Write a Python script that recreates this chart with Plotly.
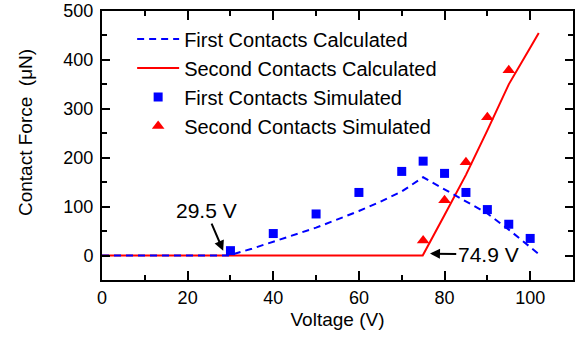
import plotly.graph_objects as go

# Calculated contact force curves (voltage in V, force in uN)
first_calc_v = [0, 29.5, 35, 40, 45, 50, 55, 60, 65, 70, 75, 80, 85, 90, 95, 100, 102]
first_calc_f = [0, 0, 14, 28, 42, 57, 74, 91, 110, 131, 160, 135, 110, 86, 53, 18, 3]

second_calc_v = [0, 74.9, 80, 85, 90, 95, 100, 102]
second_calc_f = [0, 0, 83, 165, 256, 350, 425, 455]

# Simulated contact forces
first_sim_v = [30, 40, 50, 60, 70, 75, 80, 85, 90, 95, 100]
first_sim_f = [10, 45, 85, 129, 172, 193, 168, 129, 94, 64, 35]

second_sim_v = [75, 80, 85, 90, 95]
second_sim_f = [31, 113, 191, 283, 379]

# Pull-in voltages marked with arrows
first_pullin = 29.5
second_pullin = 74.9

x_range = [0, 110]
y_range = [-50, 500]
x_ticks = [0, 20, 40, 60, 80, 100]
y_ticks = [0, 100, 200, 300, 400, 500]

BLUE = "#0000FF"
RED = "#FF0000"
FONT = "Arial, Liberation Sans, sans-serif"

fig = go.Figure()

fig.add_trace(go.Scatter(
    x=second_calc_v, y=second_calc_f, mode="lines",
    name="Second Contacts Calculated", legendrank=2,
    line=dict(color=RED, width=2),
))
fig.add_trace(go.Scatter(
    x=first_calc_v, y=first_calc_f, mode="lines",
    name="First Contacts Calculated", legendrank=1,
    line=dict(color=BLUE, width=2, dash="7px,5px"),
))
fig.add_trace(go.Scatter(
    x=first_sim_v, y=first_sim_f, mode="markers",
    name="First Contacts Simulated", legendrank=3,
    marker=dict(symbol="square", color=BLUE, size=9),
))
fig.add_trace(go.Scatter(
    x=second_sim_v, y=second_sim_f, mode="markers",
    name="Second Contacts Simulated", legendrank=4,
    marker=dict(symbol="triangle-up", color=RED, size=11),
))

# Pull-in annotations
fig.add_annotation(
    x=first_pullin - 1.2, y=10, ax=24.3, ay=92,
    xref="x", yref="y", axref="x", ayref="y",
    text=f"{first_pullin} V", showarrow=True,
    arrowhead=2, arrowsize=1, arrowwidth=2, arrowcolor="black",
    font=dict(family=FONT, size=21, color="black"),
)
fig.add_annotation(
    x=second_pullin + 1.7, y=4, ax=90.2, ay=2,
    xref="x", yref="y", axref="x", ayref="y",
    text=f"{second_pullin} V", showarrow=True,
    arrowhead=2, arrowsize=1, arrowwidth=2, arrowcolor="black",
    font=dict(family=FONT, size=21, color="black"),
)

# Y axis title
fig.add_annotation(
    x=-0.1635, y=0.55, xref="paper", yref="paper",
    xanchor="center", yanchor="middle",
    text="Contact Force\u00a0\u00a0(\u03bcN)", textangle=-90, showarrow=False,
    font=dict(family=FONT, size=19, color="black"),
)

axis_common = dict(
    showgrid=False, zeroline=False, showline=True, mirror="ticks",
    linecolor="black", linewidth=2, ticks="inside", tickcolor="black",
    tickwidth=2, automargin=False,
)

fig.update_layout(
    width=582, height=341,
    margin=dict(l=102, r=9, t=11, b=61),
    paper_bgcolor="white", plot_bgcolor="white",
    font=dict(family=FONT, size=18, color="black"),
    showlegend=True,
    legend=dict(
        x=0.064, y=0.968, xanchor="left", yanchor="top",
        bgcolor="rgba(0,0,0,0)", font=dict(family=FONT, size=20),
        itemwidth=42, tracegroupgap=0,
    ),
    xaxis=dict(
        range=x_range, tickvals=x_ticks, ticklen=9,
        minor=dict(dtick=10, ticks="inside", ticklen=5, tickcolor="black", tickwidth=2),
        title=dict(text="Voltage (V)", font=dict(size=19), standoff=6),
        **axis_common,
    ),
    yaxis=dict(
        range=y_range, tickvals=y_ticks, ticklen=8, ticklabelstandoff=3,
        minor=dict(dtick=50, ticks="inside", ticklen=5, tickcolor="black", tickwidth=2),
        **axis_common,
    ),
)

fig.write_html("out.html")
